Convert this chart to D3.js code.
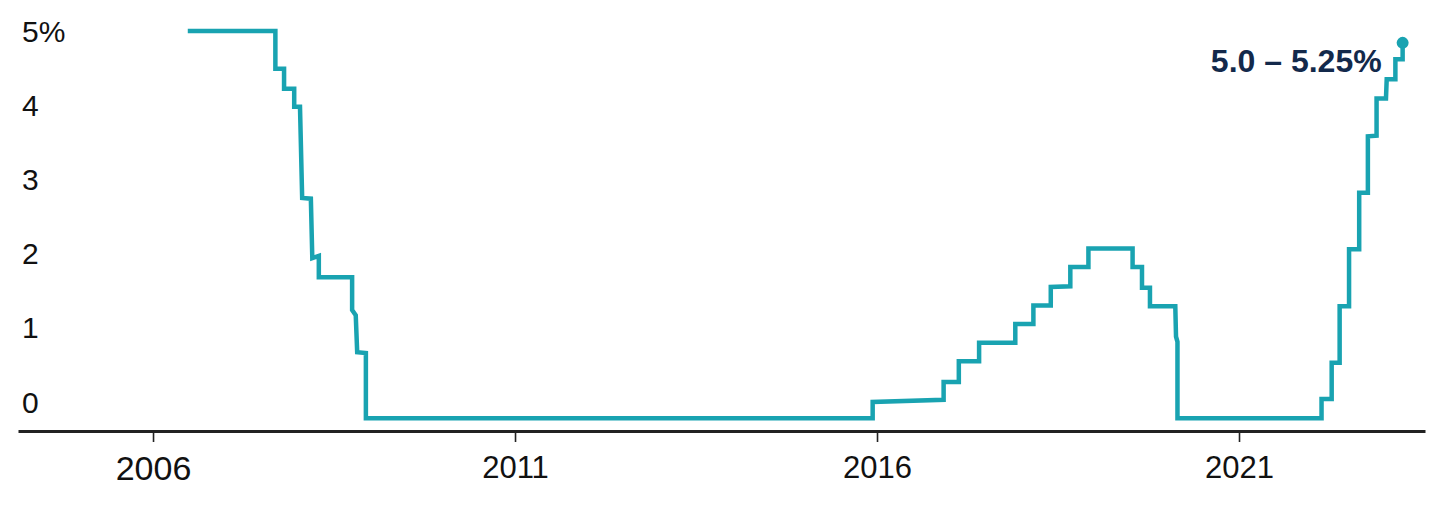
<!DOCTYPE html>
<html>
<head>
<meta charset="utf-8">
<script src="https://cdn.jsdelivr.net/npm/d3@7"></script>
<style>
  html, body { margin: 0; padding: 0; background: #ffffff; }
  svg { display: block; font-family: "Liberation Sans", Arial, sans-serif; }
</style>
</head>
<body>
<svg id="chart" width="1430" height="515"></svg>
<script>
// ---- data ----
const dates = [
  2006.48, 2007.69, 2007.69, 2007.81, 2007.81, 2007.95, 2007.95, 2008.03, 2008.06, 2008.18,
  2008.20, 2008.29, 2008.29, 2008.75, 2008.75, 2008.80, 2008.82, 2008.94, 2008.94, 2015.94,
  2015.94, 2016.92, 2016.92, 2017.13, 2017.13, 2017.41, 2017.41, 2017.91, 2017.91, 2018.16,
  2018.16, 2018.40, 2018.40, 2018.67, 2018.67, 2018.92, 2018.92, 2019.53, 2019.53, 2019.66,
  2019.66, 2019.77, 2019.77, 2020.12, 2020.13, 2020.15, 2020.15, 2022.14, 2022.14, 2022.28,
  2022.28, 2022.39, 2022.39, 2022.52, 2022.52, 2022.66, 2022.66, 2022.78, 2022.78, 2022.90,
  2022.90, 2023.03, 2023.04, 2023.16, 2023.16, 2023.26, 2023.26
];
const rates = [
  5.31, 5.31, 4.80, 4.80, 4.53, 4.53, 4.29, 4.29, 3.06, 3.05,
  2.25, 2.28, 1.99, 1.99, 1.55, 1.48, 0.98, 0.97, 0.09, 0.09,
  0.31, 0.34, 0.58, 0.58, 0.86, 0.86, 1.11, 1.11, 1.36, 1.36,
  1.61, 1.61, 1.86, 1.87, 2.13, 2.13, 2.38, 2.38, 2.13, 2.13,
  1.85, 1.85, 1.60, 1.60, 1.19, 1.12, 0.09, 0.09, 0.35, 0.35,
  0.84, 0.84, 1.60, 1.60, 2.37, 2.37, 3.13, 3.13, 3.89, 3.90,
  4.40, 4.40, 4.66, 4.66, 4.93, 4.93, 5.15
];
const xTicks = [2006, 2011, 2016, 2021];
const yTicks = [0, 1, 2, 3, 4, 5];
const yTickLabels = ["0", "1", "2", "3", "4", "5%"];
const endLabel = "5.0 – 5.25%";

// ---- layout ----
const svg = d3.select("#chart");
const axisY = 431;
const teal = "#19a3b1";

const x = d3.scaleLinear().domain([2004.135, 2023.569]).range([18, 1425]);
const y = d3.scaleLinear().domain([0, 5]).range([425, 54]);

const data = dates.map((d, i) => ({ d, v: rates[i] }));

// x axis
const xAxis = d3.axisBottom(x)
  .tickValues(xTicks)
  .tickFormat(d3.format("d"))
  .tickSize(11)
  .tickSizeOuter(0);

const gx = svg.append("g").attr("transform", `translate(0,${axisY})`).call(xAxis);
gx.select(".domain").attr("stroke", "#222").attr("stroke-width", 3);
gx.selectAll(".tick line").attr("stroke", "#222").attr("stroke-width", 1.6);
gx.selectAll(".tick text")
  .attr("fill", "#111")
  .attr("font-family", "'Liberation Sans', Arial, sans-serif")
  .attr("dy", null)
  .attr("font-size", (d, i) => i === 0 ? 34 : 31)
  .attr("y", (d, i) => i === 0 ? 49 : 47);

// y axis (labels only)
const yAxis = d3.axisLeft(y)
  .tickValues(yTicks)
  .tickFormat((d, i) => yTickLabels[i])
  .tickSize(0);
const gy = svg.append("g").attr("transform", "translate(22,0)").call(yAxis);
gy.select(".domain").remove();
gy.selectAll(".tick text")
  .attr("fill", "#111")
  .attr("font-family", "'Liberation Sans', Arial, sans-serif")
  .attr("font-size", 30)
  .attr("text-anchor", "start")
  .attr("x", 0)
  .attr("dy", null)
  .attr("y", -13);

// line
const line = d3.line().x(p => x(p.d)).y(p => y(p.v));
svg.append("path")
  .datum(data)
  .attr("fill", "none")
  .attr("stroke", teal)
  .attr("stroke-width", 4.5)
  .attr("stroke-linejoin", "miter")
  .attr("d", line);

// end dot + label
const last = data[data.length - 1];
svg.append("circle")
  .attr("cx", x(last.d))
  .attr("cy", y(last.v))
  .attr("r", 6)
  .attr("fill", teal);

svg.append("text")
  .attr("x", x(last.d) - 21)
  .attr("y", y(last.v) + 29)
  .attr("text-anchor", "end")
  .attr("font-size", 32)
  .attr("font-weight", "bold")
  .attr("fill", "#13294b")
  .text(endLabel);
</script>
</body>
</html>
